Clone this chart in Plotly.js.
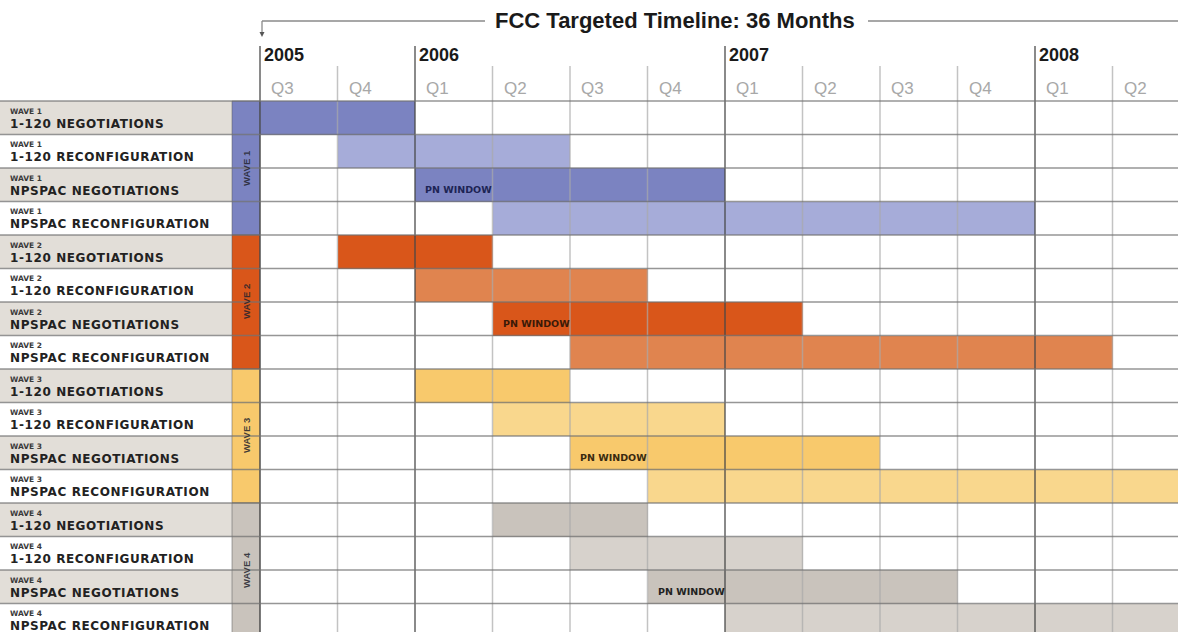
<!DOCTYPE html>
<html>
<head>
<meta charset="utf-8">
<script src="https://cdn.plot.ly/plotly-3.0.1.min.js"></script>
<style>html,body{margin:0;padding:0;background:#fff;}#chart{width:1178px;height:632px;}</style>
</head>
<body>
<div id="chart"></div>
<script>
// ---------- data ----------
const waveNames = ['WAVE 1', 'WAVE 2', 'WAVE 3', 'WAVE 4'];
const rowWave = ['WAVE 1','WAVE 1','WAVE 1','WAVE 1','WAVE 2','WAVE 2','WAVE 2','WAVE 2',
                 'WAVE 3','WAVE 3','WAVE 3','WAVE 3','WAVE 4','WAVE 4','WAVE 4','WAVE 4'];
const rowTask = ['1-120 NEGOTIATIONS','1-120 RECONFIGURATION','NPSPAC NEGOTIATIONS','NPSPAC RECONFIGURATION',
                 '1-120 NEGOTIATIONS','1-120 RECONFIGURATION','NPSPAC NEGOTIATIONS','NPSPAC RECONFIGURATION',
                 '1-120 NEGOTIATIONS','1-120 RECONFIGURATION','NPSPAC NEGOTIATIONS','NPSPAC RECONFIGURATION',
                 '1-120 NEGOTIATIONS','1-120 RECONFIGURATION','NPSPAC NEGOTIATIONS','NPSPAC RECONFIGURATION'];
// quarter index: 0 = 2005 Q3
const startQ = [0,1,2,3, 1,2,3,4, 2,3,4,5, 3,4,5,6];
const endQ   = [2,4,6,10, 3,5,7,11, 4,6,8,12.5, 5,7,9,12.5];
const pnWindowRows = [2, 6, 10, 14];
const quarterLabels = ['Q3','Q4','Q1','Q2','Q3','Q4','Q1','Q2','Q3','Q4','Q1','Q2'];
const yearLabels = ['2005','2006','2007','2008'];
const yearStartQ = [0, 2, 6, 10];
const titleText = 'FCC Targeted Timeline: 36 Months';

// ---------- styling ----------
const waveColors = [
  {neg:'#7b83c1', rec:'#a6acd9', strip:'#7b83c1', pn:'#1d2455'},
  {neg:'#d9561a', rec:'#e0844f', strip:'#d9561a', pn:'#3b1a08'},
  {neg:'#f8c96c', rec:'#f9d78d', strip:'#f8c96c', pn:'#3a2a10'},
  {neg:'#c9c3bc', rec:'#d7d2cc', strip:'#c9c3bc', pn:'#222222'}
];
const X0 = 260, QW = 77.5, Y0 = 101, RH = 33.5;
const px2x = p => (p - X0) / QW;
const px2y = p => -0.5 + (p - Y0) / RH;

const n = rowTask.length;
const rows = rowTask.map((_, i) => i);
const barColors = rows.map(i => {
  const w = Math.floor(i / 4), k = i % 4;
  return (k === 0 || k === 2) ? waveColors[w].neg : waveColors[w].rec;
});

const trace = {
  type: 'bar', orientation: 'h',
  y: rows, base: startQ, x: endQ.map((e, i) => e - startQ[i]),
  width: 1,
  marker: {color: barColors, line: {width: 0}},
  hoverinfo: 'none', showlegend: false
};

const shapes = [];
const annotations = [];
const font = 'DejaVu Sans, Liberation Sans, Arial, sans-serif';
const afont = 'Liberation Sans, Arial, sans-serif';

// label column backgrounds
for (let i = 0; i < n; i++) {
  shapes.push({type:'rect', xref:'x', yref:'y', layer:'below',
    x0: px2x(0), x1: px2x(232), y0: i - 0.5, y1: i + 0.5,
    fillcolor: (i % 2 === 0) ? '#e2ded8' : '#ffffff', line:{width:0}});
}
// wave strips
waveNames.forEach((w, k) => {
  shapes.push({type:'rect', xref:'x', yref:'y', layer:'below',
    x0: px2x(232), x1: 0, y0: 4*k - 0.5, y1: 4*k + 3.5,
    fillcolor: waveColors[k].strip, line:{width:1, color:'rgba(90,90,90,0.5)'}});
  annotations.push({xref:'x', yref:'y', x: px2x(246), y: 4*k + 1.5, text: '<b>' + w + '</b>',
    showarrow:false, textangle:-90, font:{family:'Liberation Sans Narrow, Liberation Sans, Arial, sans-serif', size:9.5, color:'rgba(35,35,45,0.85)'},
    xanchor:'center', yanchor:'middle'});
});
// vertical grid lines
for (let q = 0; q <= 12; q++) {
  const isYear = yearStartQ.includes(q);
  shapes.push({type:'line', xref:'x', yref:'y', layer:'above',
    x0: q, x1: q, y0: isYear ? px2y(46) : px2y(66), y1: px2y(640),
    line:{color: isYear ? 'rgba(70,70,70,0.85)' : 'rgba(170,170,170,0.7)', width: 1.5}});
}
// horizontal row lines
for (let i = 0; i <= n; i++) {
  shapes.push({type:'line', xref:'x', yref:'y', layer:'above',
    x0: px2x(0), x1: px2x(1180), y0: i - 0.5, y1: i - 0.5,
    line:{color:'rgba(115,115,115,0.75)', width:1.3}});
}
// title bracket
const ty = px2y(21);
shapes.push({type:'line', xref:'x', yref:'y', layer:'above', x0: px2x(262), x1: px2x(485), y0: ty, y1: ty, line:{color:'#8a8a8a', width:1.3}});
shapes.push({type:'line', xref:'x', yref:'y', layer:'above', x0: px2x(868), x1: px2x(1180), y0: ty, y1: ty, line:{color:'#8a8a8a', width:1.3}});
shapes.push({type:'line', xref:'x', yref:'y', layer:'above', x0: px2x(262), x1: px2x(262), y0: ty, y1: px2y(33), line:{color:'#8a8a8a', width:1.3}});
shapes.push({type:'path', xref:'x', yref:'y', layer:'above',
  path: `M ${px2x(259.5)} ${px2y(32)} L ${px2x(264.5)} ${px2y(32)} L ${px2x(262)} ${px2y(37)} Z`,
  fillcolor:'#555', line:{width:0}});

annotations.push({xref:'x', yref:'y', x: px2x(675), y: px2y(20), text: '<b>' + titleText + '</b>',
  showarrow:false, font:{family:afont, size:22, color:'#1a1a1a'}, xanchor:'center', yanchor:'middle'});

// year labels
yearLabels.forEach((y, k) => {
  annotations.push({xref:'x', yref:'y', x: yearStartQ[k], y: px2y(55), text: '<b>' + y + '</b>',
    showarrow:false, xanchor:'left', yanchor:'middle', xshift: 2,
    font:{family:afont, size:18, color:'#1a1a1a'}});
});
// quarter labels
quarterLabels.forEach((q, k) => {
  annotations.push({xref:'x', yref:'y', x: k, y: px2y(88), text: q,
    showarrow:false, xanchor:'left', yanchor:'middle', xshift: 9,
    font:{family:afont, size:17, color:'#a8a8a8'}});
});
// row labels
for (let i = 0; i < n; i++) {
  annotations.push({xref:'x', yref:'y', x: px2x(8), y: i - 6.5/RH, text: '<b>' + rowWave[i] + '</b>',
    showarrow:false, xanchor:'left', yanchor:'middle', align:'left', font:{family:font, size:7.5, color:'#3a3a3a'}});
  annotations.push({xref:'x', yref:'y', x: px2x(8), y: i + 6/RH, text: '<b>' + rowTask[i] + '</b>',
    showarrow:false, xanchor:'left', yanchor:'middle', align:'left', font:{family:font, size:12, color:'#222'}});
}
// PN window labels
pnWindowRows.forEach((r, k) => {
  annotations.push({xref:'x', yref:'y', x: startQ[r], y: r + 5/RH, text: '<b>PN WINDOW</b>',
    showarrow:false, xanchor:'left', yanchor:'middle', align:'left', xshift: 8,
    font:{family:font, size:9.5, color: waveColors[k].pn}});
});

const layout = {
  width: 1178, height: 632,
  margin: {l:0, r:0, t:0, b:0, pad:0},
  paper_bgcolor:'#ffffff', plot_bgcolor:'#ffffff',
  showlegend:false,
  bargap: 0,
  xaxis: {range:[px2x(0), px2x(1178)], showgrid:false, zeroline:false, showticklabels:false, showline:false, fixedrange:true},
  yaxis: {range:[px2y(632), px2y(0)], showgrid:false, zeroline:false, showticklabels:false, showline:false, fixedrange:true},
  shapes: shapes,
  annotations: annotations
};
const taskSet = new Set(rowTask);
Plotly.newPlot('chart', [trace], layout, {displayModeBar:false, staticPlot:true}).then(() => {
  document.querySelectorAll('text.annotation-text').forEach(t => {
    if (taskSet.has(t.textContent)) t.style.letterSpacing = '0.6px';
  });
});
</script>
</body>
</html>
